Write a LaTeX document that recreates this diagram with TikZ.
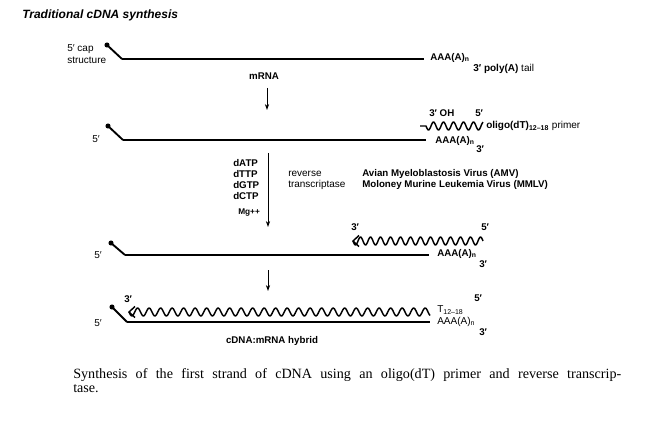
\documentclass[tikz,border=0pt]{standalone}
\usepackage{fontspec}
\setmainfont{Liberation Serif}
\setsansfont{Liberation Sans}
\usetikzlibrary{arrows.meta}
\begin{document}
\begin{tikzpicture}[x=0.75pt,y=-0.75pt,
  lbl/.style={inner sep=0pt,anchor=west,font=\sffamily\fontsize{7.5}{9}\selectfont},
  blbl/.style={inner sep=0pt,anchor=west,font=\sffamily\bfseries\fontsize{7.3}{8.5}\selectfont},
  strand/.style={line width=1.1pt},
  capline/.style={line width=1.4pt},
  wave/.style={line width=1.1pt,line join=round},
  flow/.style={line width=0.7pt,-{Stealth[length=4.5pt,width=3.2pt]}},
  capdot/.style={fill=black}]
\useasboundingbox (0,0) rectangle (650,424);

% title
\node[inner sep=0pt,anchor=west,font=\sffamily\bfseries\itshape\fontsize{9}{11}\selectfont] (title) at (22,15) {Traditional cDNA synthesis};

% ---- strand 1
\coordinate (d1) at (107,45); \coordinate (k1) at (122,59); \coordinate (e1) at (424,59);
\fill[capdot] (d1) circle (1.9pt);
\draw[capline] (d1) -- (k1);
\draw[strand] (k1) -- (e1);
\node[lbl,anchor=north west,align=left,font=\sffamily\fontsize{7.5}{9}\selectfont] (capt) at (67,44) {5′ cap\\structure};
\node[blbl] (a1) at (430,58) {AAA(A)\textsubscript{n}};
\node[lbl] (p1) at (473,69) {\textbf{3′ poly(A)} tail};
\node[blbl,anchor=center] (mrna) at (264,76) {mRNA};

% arrow 1
\coordinate (ar1s) at (267,88); \coordinate (ar1e) at (267,110);
\draw[flow] (ar1s) -- (ar1e);

% ---- strand 2
\coordinate (d2) at (108,126); \coordinate (k2) at (123,140); \coordinate (e2) at (426,140);
\fill[capdot] (d2) circle (1.9pt);
\draw[capline] (d2) -- (k2);
\draw[strand] (k2) -- (e2);
\node[lbl] (f2) at (92,139) {5′};
\coordinate (pr0) at (420,126); \coordinate (pr1) at (426,126);
\draw[wave] (pr0) -- (pr1) -- plot[domain=426:483,samples=80,smooth] (\x,{126+4*sin((\x-426)*36)});
\node[blbl] (oh) at (429,113) {3′ OH};
\node[blbl] (p5) at (475,113) {5′};
\node[lbl] (olig) at (486,126) {\textbf{oligo(dT)\textsubscript{12–18}} primer};
\node[blbl] (a2) at (435,141) {AAA(A)\textsubscript{n}};
\node[blbl] (t2) at (476,149) {3′};

% arrow 2 and reagents
\coordinate (ar2s) at (268,153); \coordinate (ar2e) at (268,227);
\draw[flow] (ar2s) -- (ar2e);
\node[blbl] (datp) at (233,163) {dATP};
\node[blbl] (dttp) at (233,174) {dTTP};
\node[blbl] (dgtp) at (233,185) {dGTP};
\node[blbl] (dctp) at (233,196) {dCTP};
\node[blbl,font=\sffamily\bfseries\fontsize{6.2}{7}\selectfont] (mg) at (238,213) {Mg++};
\node[lbl] (rev) at (288,174) {reverse};
\node[lbl] (trans) at (288,185) {transcriptase};
\node[blbl] (amv) at (362,174) {Avian Myeloblastosis Virus (AMV)};
\node[blbl] (mmlv) at (362,185) {Moloney Murine Leukemia Virus (MMLV)};

% ---- strand 3
\coordinate (d3) at (111,243); \coordinate (k3) at (125,255); \coordinate (e3) at (429,255);
\fill[capdot] (d3) circle (1.9pt);
\draw[capline] (d3) -- (k3);
\draw[strand] (k3) -- (e3);
\node[lbl] (f3) at (94,255) {5′};
\coordinate (tip3) at (353,241);
\draw[wave] (359,235.5) -- (tip3) -- (359,246.5);
\draw[wave] plot[domain=353:483,samples=160,smooth] (\x,{241+4*sin((\x-353)*36)});
\node[blbl] (t3a) at (351,227) {3′};
\node[blbl] (f3a) at (481,227) {5′};
\node[blbl] (a3) at (437,254) {AAA(A)\textsubscript{n}};
\node[blbl] (t3b) at (479,264) {3′};

% arrow 3
\coordinate (ar3s) at (268,270); \coordinate (ar3e) at (268,291);
\draw[flow] (ar3s) -- (ar3e);

% ---- strand 4
\coordinate (d4) at (112,307); \coordinate (k4) at (127,322); \coordinate (e4) at (430,322);
\fill[capdot] (d4) circle (1.9pt);
\draw[capline] (d4) -- (k4);
\draw[strand] (k4) -- (e4);
\node[lbl] (f4) at (94,323) {5′};
\coordinate (tip4) at (129,312);
\draw[wave] (135,306.5) -- (tip4) -- (135,317.5);
\draw[wave] plot[domain=129:430,samples=300,smooth] (\x,{312+4*sin((\x-129)*31.3)});
\node[blbl] (t4a) at (124,299) {3′};
\node[lbl] (t1218) at (437,310) {T\textsubscript{12–18}};
\node[blbl] (f4a) at (474,298) {5′};
\node[lbl] (a4) at (437,322) {AAA(A)\textsubscript{n}};
\node[blbl] (t4b) at (479,332) {3′};
\node[blbl,anchor=center] (hyb) at (272,341) {cDNA:mRNA hybrid};

% caption
\node[inner sep=0pt,anchor=west,font=\rmfamily\fontsize{10.6}{12}\selectfont] (cap1) at (73,375)
  {\makebox[411pt][s]{Synthesis of the first strand of cDNA using an oligo(dT) primer and reverse transcrip-}};
\node[inner sep=0pt,anchor=west,font=\rmfamily\fontsize{10.6}{12}\selectfont] (cap2) at (73,389) {tase.};
\end{tikzpicture}
\end{document}
